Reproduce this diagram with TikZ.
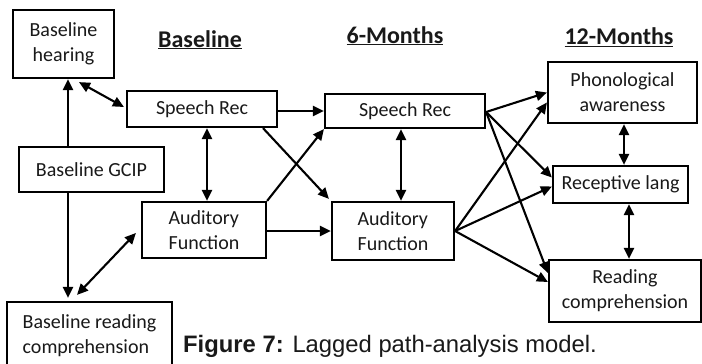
\documentclass[tikz,border=0pt]{standalone}
\usepackage{fontspec}
\setmainfont{Carlito}
\newfontfamily\capfont{Liberation Sans}
\usetikzlibrary{arrows.meta}
\begin{document}
\begin{tikzpicture}[x=1pt,y=-1pt,
  box/.style={draw=black, line width=2.2pt, inner sep=0pt, text=black!90,
    font=\fontsize{20}{25}\selectfont},
  arr/.style={line width=2.1pt, -{Triangle[length=11pt,width=10pt]}},
  dbl/.style={line width=2.1pt, {Triangle[length=11pt,width=10pt]}-{Triangle[length=11pt,width=10pt]}},
  head/.style={font=\bfseries\fontsize{24}{28}\selectfont, anchor=base, inner sep=0pt, text=black!90}]
\useasboundingbox (0,0) rectangle (702,364);
\fill[white] (0,0) rectangle (702,364);

% boxes
\node[box, minimum width=101pt, minimum height=68pt, align=center] (hear) at (63.5,44) {Baseline\\hearing};
\node[box, minimum width=145pt, minimum height=45pt] (gcip) at (91.5,169.5) {Baseline GCIP};
\node[box, minimum width=165pt, minimum height=68pt, align=left] (brc) at (89.5,336) {Baseline reading\\comprehension};
\node[box, minimum width=150pt, minimum height=36pt] (sr0) at (202,109) {Speech Rec};
\node[box, minimum width=124pt, minimum height=56pt, align=left] (af0) at (204,230) {Auditory\\Function};
\node[box, minimum width=160pt, minimum height=34pt] (sr6) at (405,111) {Speech Rec};
\node[box, minimum width=122pt, minimum height=58pt, align=left] (af6) at (393,231) {Auditory\\Function};
\node[box, minimum width=149pt, minimum height=61pt, align=center] (phon) at (622.5,92.5) {Phonological\\awareness};
\node[box, minimum width=135pt, minimum height=37pt] (rec) at (620.5,184.5) {Receptive lang};
\node[box, minimum width=152pt, minimum height=62pt, align=center] (read) at (625,291) {Reading\\comprehension};

% headings
\node[head] (h0) at (200,47) {\underline{Baseline}};
\node[head] (h6) at (395,43) {\underline{6-Months}};
\node[head] (h12) at (619,45) {\underline{12-Months}};

% caption
\node[anchor=base west, inner sep=0pt, text=black!90, font=\capfont\fontsize{23.8}{28}\selectfont] (cap) at (183,352) {\textbf{Figure 7:} Lagged path-analysis model.};

% connectors
\draw[arr] ([xshift=-23.5pt]gcip.north) -- ([xshift=4.5pt]hear.south);
\draw[arr] ([xshift=-23.5pt]gcip.south) -- ([xshift=-21.5pt,yshift=3pt]brc.north);
\draw[dbl] ([xshift=15.5pt,yshift=-3pt]hear.south) -- ([xshift=-2pt,yshift=2pt]sr0.west);
\draw[dbl] ([xshift=-12.5pt,yshift=6pt]brc.north) -- ([xshift=-5pt,yshift=-3pt]af0.west);
\draw[dbl] ([xshift=5pt]sr0.south) -- ([xshift=3pt]af0.north);
\draw[arr] ([yshift=-2pt]sr0.east) -- (sr6.west);
\draw[arr] ([xshift=61pt]sr0.south) -- ([xshift=-2pt,yshift=2pt]af6.north west);
\draw[arr] (af0.north east) -- (sr6.south west);
\draw[arr] ([yshift=-1pt]af0.east) -- (af6.west);
\draw[dbl] ([xshift=-4pt]sr6.south) -- ([xshift=8pt]af6.north);
\draw[arr] ([yshift=-1pt]sr6.east) -- (phon.west);
\draw[arr] ([yshift=-1pt]sr6.east) -- ([yshift=7pt]rec.west);
\draw[arr] ([yshift=-1pt]sr6.east) -- ([yshift=18pt]read.west);
\draw[arr] (af6.east) -- ([yshift=-10pt]phon.west);
\draw[arr] (af6.east) -- ([yshift=-2pt]rec.west);
\draw[arr] (af6.east) -- ([yshift=9pt]read.west);
\draw[dbl] ([xshift=1.5pt]phon.south) -- ([xshift=3.5pt]rec.north);
\draw[dbl] ([xshift=8.5pt]rec.south) -- ([xshift=4pt]read.north);
\end{tikzpicture}
\end{document}
